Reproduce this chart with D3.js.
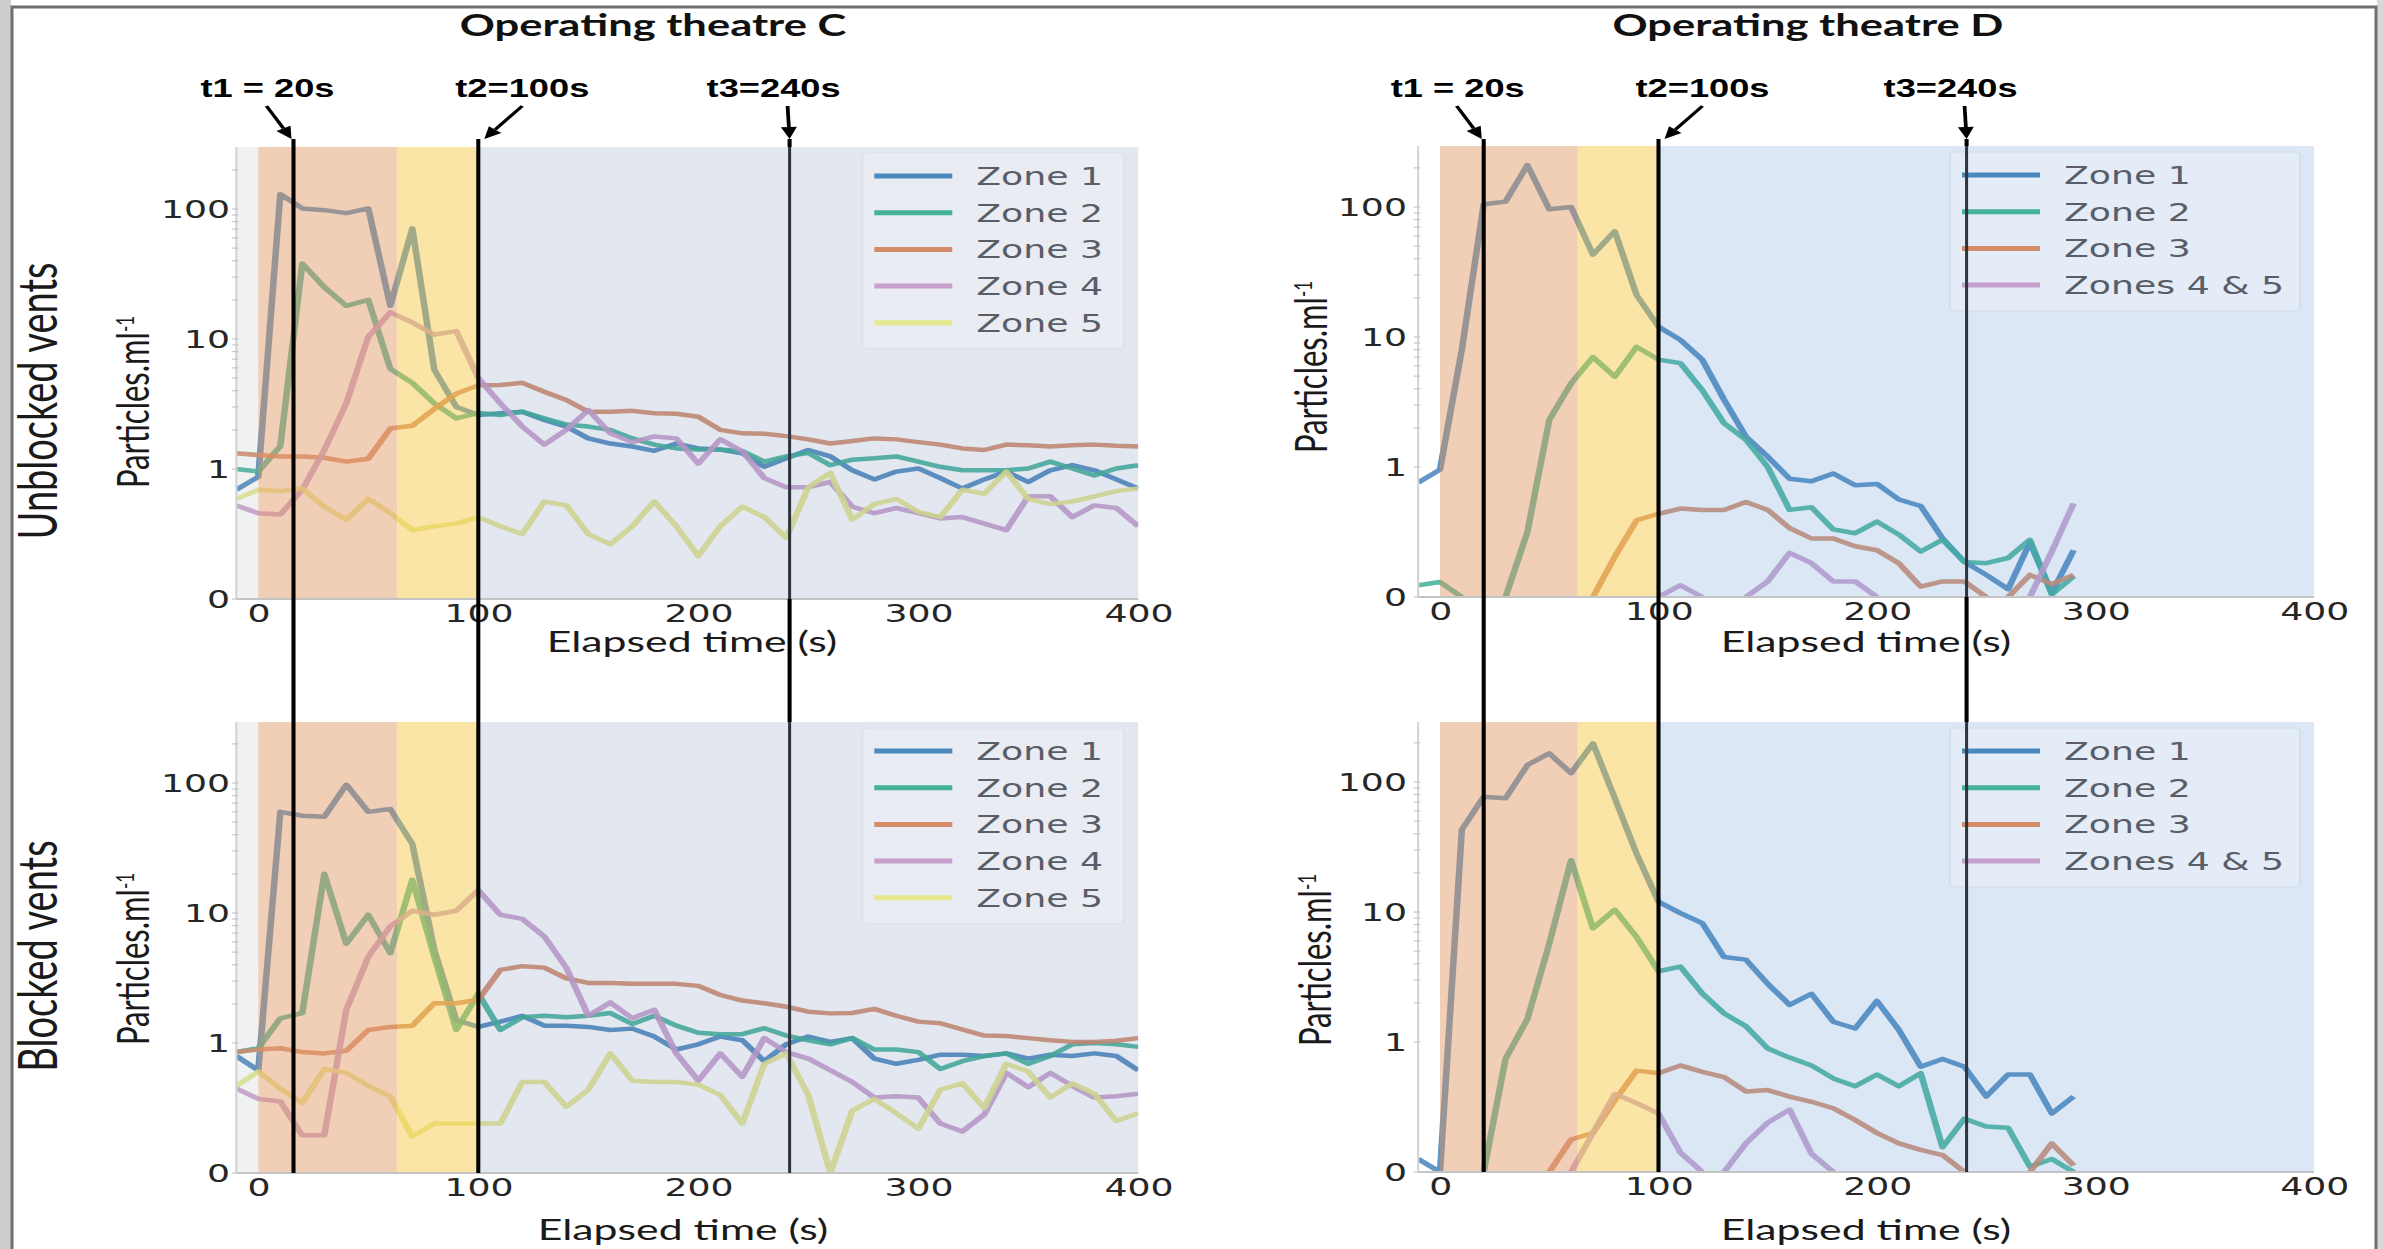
<!DOCTYPE html>
<html lang="en">
<head>
<meta charset="UTF-8">
<title>Particle concentration, operating theatres C and D</title>
<script src="https://cdnjs.cloudflare.com/ajax/libs/d3/7.8.5/d3.min.js"></script>
<style>
  body { margin: 0; background: #fff; }
  svg { display: block; }
</style>
</head>
<body>
<svg width="2384" height="1249"></svg>
<script>
"use strict";

// ---- data -------------------------------------------------------------
const timeC = [-10, 0, 10, 20, 30, 40, 50, 60, 70, 80, 90, 100, 110, 120, 130, 140, 150, 160, 170, 180, 190,
               200, 210, 220, 230, 240, 250, 260, 270, 280, 290, 300, 310, 320, 330, 340, 350, 360, 370, 380, 390, 400];
const timeD = [-10, 0, 10, 20, 30, 40, 50, 60, 70, 80, 90, 100, 110, 120, 130, 140, 150, 160, 170, 180, 190,
               200, 210, 220, 230, 240, 250, 260, 270, 280, 290];

const zoneNamesC = ["Zone 1", "Zone 2", "Zone 3", "Zone 4", "Zone 5"];
const zoneNamesD = ["Zone 1", "Zone 2", "Zone 3", "Zones 4 & 5"];

const yTicks = [0, 1, 10, 100];
const xTicks = [0, 100, 200, 300, 400];

const eventLabels = ["t1 = 20s", "t2=100s", "t3=240s"];
const eventTimesC = [16, 100, 241.5];
const eventTimesD = [20, 100, 241];
const phaseEdges = [0, 63, 100, 400];

// theatre C, unblocked vents
const cUnbZone1 = [0.84, 0.94, 130, 101, 98, 93, 101, 18, 71, 5.8, 3.0, 2.6,
  2.68, 2.76, 2.38, 2.12, 1.72, 1.57, 1.49, 1.38, 1.57, 1.44, 1.41, 1.32, 1.04, 1.21, 1.4, 1.25, 0.99, 0.92, 0.98, 1.01,
  0.93, 0.85, 0.92, 0.98, 0.9, 0.99, 1.07, 0.99, 0.92, 0.85];
const cUnbZone2 = [1.0, 0.98, 1.5, 38, 25, 18, 20, 5.9, 4.6, 3.2, 2.45, 2.7,
  2.6, 2.76, 2.45, 2.2, 2.12, 2.0, 1.72, 1.54, 1.44, 1.41, 1.41, 1.37, 1.14, 1.25, 1.33, 1.07, 1.18, 1.21, 1.25, 1.14,
  1.04, 0.99, 0.99, 0.99, 1.01, 1.14, 1.01, 0.95, 1.01, 1.07];
const cUnbZone3 = [1.32, 1.28, 1.25, 1.25, 1.22, 1.14, 1.2, 2.05, 2.15, 2.9, 3.8, 4.4,
  4.43, 4.6, 3.93, 3.4, 2.76, 2.76, 2.8, 2.68, 2.66, 2.52, 2.0, 1.88, 1.87, 1.79, 1.69, 1.57, 1.64, 1.72, 1.69, 1.61,
  1.54, 1.44, 1.4, 1.54, 1.52, 1.49, 1.52, 1.54, 1.51, 1.49];
const cUnbZone4 = [0.72, 0.66, 0.65, 0.84, 1.4, 3.2, 10.4, 16, 13.4, 10.8, 11.5, 5.0,
  3.2, 2.12, 1.54, 2.0, 2.84, 1.88, 1.61, 1.78, 1.72, 1.1, 1.69, 1.37, 0.93, 0.86, 0.86, 0.9, 0.71, 0.66, 0.7, 0.66,
  0.62, 0.63, 0.58, 0.53, 0.79, 0.79, 0.63, 0.72, 0.7, 0.56];
const cUnbZone5 = [0.77, 0.84, 0.83, 0.85, 0.71, 0.61, 0.77, 0.66, 0.53, 0.56, 0.58, 0.63,
  0.56, 0.5, 0.75, 0.72, 0.5, 0.42, 0.56, 0.75, 0.56, 0.33, 0.56, 0.71, 0.63, 0.47, 0.86, 0.97, 0.61, 0.73, 0.77, 0.67,
  0.63, 0.84, 0.81, 0.98, 0.77, 0.73, 0.75, 0.79, 0.83, 0.85];

// theatre C, blocked vents
const cBlkZone1 = [0.9, 0.79, 60, 56, 55, 97, 60, 63, 34, 5.2, 1.5, 1.33,
  1.46, 1.62, 1.36, 1.36, 1.33, 1.26, 1.29, 1.12, 0.95, 0.99, 1.12, 1.05, 0.86, 0.99, 1.12, 1.02, 1.09, 0.88, 0.84, 0.87,
  0.91, 0.91, 0.9, 0.92, 0.88, 0.91, 0.9, 0.92, 0.9, 0.79];
const cBlkZone2 = [0.93, 0.96, 1.55, 1.7, 20, 5.8, 9.7, 4.9, 18, 4.6, 1.26, 2.4,
  1.26, 1.58, 1.62, 1.58, 1.62, 1.7, 1.4, 1.62, 1.36, 1.2, 1.17, 1.17, 1.3, 1.14, 1.05, 0.99, 1.09, 0.95, 0.95, 0.93,
  0.8, 0.86, 0.9, 0.92, 0.84, 0.9, 0.99, 1.0, 0.99, 0.97];
const cBlkZone3 = [0.93, 0.95, 0.96, 0.93, 0.92, 0.94, 1.26, 1.33, 1.36, 2.02, 2.02, 2.15,
  3.65, 3.9, 3.8, 3.14, 2.9, 2.9, 2.85, 2.85, 2.85, 2.75, 2.34, 2.12, 2.02, 1.9, 1.74, 1.69, 1.7, 1.83, 1.62, 1.46,
  1.42, 1.27, 1.14, 1.13, 1.09, 1.05, 1.02, 1.02, 1.04, 1.09];
const cBlkZone4 = [0.65, 0.57, 0.55, 0.29, 0.29, 1.8, 4.6, 7.9, 10.4, 9.7, 10.4, 15,
  9.7, 9.0, 6.6, 3.8, 1.62, 2.05, 1.55, 1.8, 0.92, 0.71, 0.92, 0.74, 1.09, 0.93, 0.88, 0.79, 0.7, 0.58, 0.59, 0.58,
  0.38, 0.32, 0.45, 0.77, 0.66, 0.77, 0.67, 0.58, 0.59, 0.61];
const cBlkZone5 = [0.67, 0.78, 0.65, 0.54, 0.8, 0.77, 0.67, 0.59, 0.28, 0.38, 0.38, 0.38,
  0.38, 0.7, 0.7, 0.51, 0.64, 0.92, 0.71, 0.7, 0.7, 0.68, 0.6, 0.38, 0.84, 0.92, 0.6, 0, 0.48, 0.57, 0.46, 0.34,
  0.64, 0.69, 0.5, 0.84, 0.78, 0.58, 0.69, 0.61, 0.4, 0.46];

// theatre D, unblocked vents
const dUnbZone1 = [0.88, 0.98, 8, 105, 110, 210, 96, 100, 43, 65, 21, 12,
  9.5, 6.7, 3.3, 1.71, 1.2, 0.91, 0.89, 0.95, 0.86, 0.87,
  0.75, 0.7, 0.45, 0.27, 0.17, 0.06, 0.42, 0.03, 0.36];
const dUnbZone2 = [0.09, 0.115, 0, 0, 0, 0.5, 2.3, 4.4, 7.0, 4.95, 8.4, 6.7,
  6.3, 3.9, 2.17, 1.62, 1.0, 0.67, 0.69, 0.52, 0.49, 0.58,
  0.48, 0.35, 0.44, 0.27, 0.26, 0.3, 0.44, 0.02, 0.16];
const dUnbZone3 = [null, null, null, null, null, null, null, null, 0, 0.31, 0.59, 0.64,
  0.68, 0.67, 0.67, 0.73, 0.67, 0.53, 0.45, 0.45, 0.39, 0.36,
  0.26, 0.08, 0.12, 0.12, 0, 0, 0.17, 0.1, 0.17];
const dUnbZone45 = [null, null, null, null, null, null, null, null, null, null, null, 0,
  0.09, 0, 0, 0, 0.12, 0.34, 0.26, 0.12, 0.12, 0,
  0, 0, 0, 0, 0, 0, 0, 0.35, 0.72];

// theatre D, blocked vents
const dBlkZone1 = [0.1, 0, 43, 77, 75, 135, 166, 117, 198, 75, 28, 12,
  9.8, 8.2, 4.5, 4.3, 2.8, 1.93, 2.35, 1.43, 1.27, 2.07,
  1.24, 0.81, 0.87, 0.81, 0.58, 0.75, 0.75, 0.45, 0.58];
const dBlkZone2 = [null, null, null, 0, 0.87, 1.5, 5.7, 25, 7.5, 10.4, 6.4, 3.5,
  3.8, 2.37, 1.66, 1.32, 0.95, 0.88, 0.82, 0.72, 0.66, 0.75,
  0.66, 0.76, 0.19, 0.41, 0.35, 0.34, 0.04, 0.1, 0];
const dBlkZone3 = [null, null, null, null, null, null, 0, 0.25, 0.3, 0.55, 0.78, 0.76,
  0.82, 0.77, 0.73, 0.62, 0.63, 0.58, 0.54, 0.49, 0.4, 0.3,
  0.22, 0.17, 0.13, 0, 0, 0, 0, 0.22, 0.05];
const dBlkZone45 = [null, null, null, null, null, null, null, 0, 0.3, 0.6, 0.53, 0.45,
  0.15, 0, 0, 0.22, 0.38, 0.48, 0.14, 0, null, null,
  null, null, null, null, null, null, null, null, null];

// ---- layout / style ---------------------------------------------------
const SX = 1.45;        // the original figure is stretched horizontally
const DECADE = 130;     // px per y unit (0-1, 1-10, 10-100)
const zoneColors = ["#4a89be", "#44b39a", "#d58c69", "#c8a0cd", "#e6e88e"];
const phaseColors = ["#e0925d", "#f3c339"];

const columns = [
  {
    x0: 258.3, k: 2.2, title: "Operating theatre C", titleX: 653, events: eventTimesC,
    pre: { color: "#8291a5", opacity: 0.13 }, rest: { color: "#44609c", opacity: 0.15 },
    legendFill: "#e9ecf2", legendStroke: "#dde1e8", legendW: 262, names: zoneNamesC,
    colors: zoneColors, yPad: 4.3,
    panels: [
      { top: 147, bottom: 599, time: timeC, series: [cUnbZone1, cUnbZone2, cUnbZone3, cUnbZone4, cUnbZone5],
        xLabel: [692, 652], yLabel: [149, 402] },
      { top: 722, bottom: 1173, time: timeC, series: [cBlkZone1, cBlkZone2, cBlkZone3, cBlkZone4, cBlkZone5],
        xLabel: [683, 1240], yLabel: [149, 959] }
    ]
  },
  {
    x0: 1440, k: 2.185, title: "Operating theatre D", titleX: 1808, events: eventTimesD,
    pre: null, rest: { color: "#4b87cd", opacity: 0.2 },
    legendFill: "#e3ecf7", legendStroke: "#d3deec", legendW: 350, names: zoneNamesD,
    colors: [zoneColors[0], zoneColors[1], zoneColors[2], zoneColors[3]], yPad: 7.7,
    panels: [
      { top: 146, bottom: 597, time: timeD, series: [dUnbZone1, dUnbZone2, dUnbZone3, dUnbZone45],
        xLabel: [1866, 652], yLabel: [1327, 367] },
      { top: 722, bottom: 1172, time: timeD, series: [dBlkZone1, dBlkZone2, dBlkZone3, dBlkZone45],
        xLabel: [1866, 1240], yLabel: [1331, 960] }
    ]
  }
];

const rowLabels = [["Unblocked vents", 401], ["Blocked vents", 956]];

const symT = v => (v <= 1 ? v : 1 + Math.log10(v));

// split a series into drawable runs (no segment lying flat on zero)
function runs(time, vals) {
  const out = [];
  let cur = null;
  for (let i = 0; i < vals.length - 1; i++) {
    const a = vals[i], b = vals[i + 1];
    if (a != null && b != null && !(a === 0 && b === 0)) {
      if (!cur) { cur = [[time[i], a]]; out.push(cur); }
      cur.push([time[i + 1], b]);
    } else {
      cur = null;
    }
  }
  return out;
}

const svg = d3.select("svg");

// page frame from the screenshot
svg.append("rect").attr("x", 0).attr("y", 0).attr("width", 11).attr("height", 1249).attr("fill", "#cdcdcd");
svg.append("rect").attr("x", 2377).attr("y", 0).attr("width", 7).attr("height", 1249).attr("fill", "#d8d8d8");
svg.append("path").attr("d", "M12,1249V7H2376V1249").attr("fill", "none").attr("stroke", "#6f6f6f").attr("stroke-width", 3);

const defs = svg.append("defs");
let clipId = 0;

columns.forEach(col => {
  const sx = d3.scaleLinear()
    .domain([-10, 400])
    .range([(col.x0 - 10 * col.k) / SX, (col.x0 + 400 * col.k) / SX]);

  col.panels.forEach(p => {
    const sy = d3.scaleLinear().domain([0, (p.bottom - p.top) / DECADE]).range([p.bottom, p.top]);
    const yv = v => sy(symT(v));
    const left = sx(-10), right = sx(400);

    // clip in unscaled page space, series drawn inside a stretched group
    const id = "clip" + (clipId++);
    defs.append("clipPath").attr("id", id)
      .append("rect").attr("x", left * SX).attr("y", p.top).attr("width", (right - left) * SX).attr("height", p.bottom - p.top);
    const inner = svg.append("g").attr("clip-path", `url(#${id})`)
      .append("g").attr("transform", `scale(${SX},1)`);

    const line = d3.line().x(d => sx(d[0])).y(d => yv(d[1]));
    p.series.forEach((vals, si) => {
      runs(p.time, vals).forEach(r => {
        inner.append("path")
          .attr("d", line(r))
          .attr("fill", "none")
          .attr("stroke", col.colors[si])
          .attr("stroke-opacity", 0.88)
          .attr("stroke-width", 4.5)
          .attr("stroke-linejoin", "round");
      });
    });

    // shaded phases on top of the lines
    const bands = [];
    if (col.pre) bands.push({ from: -10, to: 0, color: col.pre.color, opacity: col.pre.opacity });
    bands.push({ from: phaseEdges[0], to: phaseEdges[1], color: phaseColors[0], opacity: 0.45 });
    bands.push({ from: phaseEdges[1], to: phaseEdges[2], color: phaseColors[1], opacity: 0.45 });
    bands.push({ from: phaseEdges[2], to: phaseEdges[3], color: col.rest.color, opacity: col.rest.opacity });
    const over = svg.append("g").attr("transform", `scale(${SX},1)`);
    over.selectAll("rect").data(bands).join("rect")
      .attr("x", d => sx(d.from))
      .attr("width", d => sx(d.to) - sx(d.from))
      .attr("y", p.top)
      .attr("height", p.bottom - p.top)
      .attr("fill", d => d.color)
      .attr("fill-opacity", d => d.opacity);

    // spines and minor ticks
    over.append("line").attr("x1", left).attr("x2", right).attr("y1", p.bottom).attr("y2", p.bottom)
      .attr("stroke", "#c4c4c4").attr("stroke-width", 2);
    over.append("line").attr("x1", left).attr("x2", left).attr("y1", p.top).attr("y2", p.bottom)
      .attr("stroke", "#d2d2d2").attr("stroke-width", 1.4);
    const minor = [];
    [1, 10, 100].forEach(dec => { for (let m = 2; m <= 9; m++) if (symT(dec * m) < (p.bottom - p.top) / DECADE) minor.push(dec * m); });
    over.selectAll(".mt").data(minor.concat(yTicks)).join("line")
      .attr("x1", left - 3).attr("x2", left + 1.5)
      .attr("y1", d => yv(d)).attr("y2", d => yv(d))
      .attr("stroke", "#c6c6c6").attr("stroke-width", 1.2);

    // axes
    const xa = over.append("g").attr("transform", `translate(0,${p.bottom})`)
      .call(d3.axisBottom(sx).tickValues(xTicks).tickSize(0).tickPadding(5));
    const ya = over.append("g").attr("transform", `translate(${left},0)`)
      .call(d3.axisLeft(sy).tickValues(yTicks.map(symT)).tickFormat((d, i) => yTicks[i]).tickSize(0).tickPadding(col.yPad));
    [xa, ya].forEach(a => {
      a.select(".domain").remove();
      a.attr("font-family", "'DejaVu Sans', sans-serif").attr("font-size", 25);
      a.selectAll("text").attr("fill", "#262626");
    });

    // axis titles
    over.append("text")
      .attr("x", p.xLabel[0] / SX).attr("y", p.xLabel[1])
      .attr("text-anchor", "middle")
      .attr("font-family", "Lato, sans-serif").attr("font-size", 29.5).attr("fill", "#1a1a1a")
      .text("Elapsed time (s)");
    const yl = over.append("text")
      .attr("transform", `translate(${p.yLabel[0] / SX},${p.yLabel[1]}) rotate(-90)`)
      .attr("text-anchor", "middle")
      .attr("font-family", "Lato, sans-serif").attr("font-size", 31).attr("fill", "#1a1a1a");
    yl.append("tspan").text("Particles.ml");
    yl.append("tspan").attr("baseline-shift", "super").attr("font-size", 17).text("-1");

    // legend
    const n = col.names.length;
    const lx = right - (14 + col.legendW) / SX;
    const ly = p.top + 6;
    over.append("rect")
      .attr("x", lx).attr("y", ly)
      .attr("width", col.legendW / SX).attr("height", n * 36.7 + 12)
      .attr("rx", 3).attr("ry", 4)
      .attr("fill", col.legendFill).attr("stroke", col.legendStroke).attr("stroke-width", 1.2);
    col.names.forEach((name, i) => {
      const yy = p.top + 29 + i * 36.7;
      over.append("line")
        .attr("x1", lx + 12 / SX).attr("x2", lx + 90 / SX)
        .attr("y1", yy).attr("y2", yy)
        .attr("stroke", col.colors[i]).attr("stroke-width", 5);
      over.append("text")
        .attr("x", lx + 114 / SX).attr("y", yy)
        .attr("dy", "0.36em")
        .attr("font-family", "'DejaVu Sans', sans-serif").attr("font-size", 25)
        .attr("fill", "#585d68")
        .text(name);
    });
  });

  // event markers spanning both panels
  const [pu, pb] = col.panels;
  const top = svg.append("g").attr("transform", `scale(${SX},1)`);
  col.events.forEach((t, i) => {
    const x = sx(t);
    if (i < 2) {
      top.append("line").attr("x1", x).attr("x2", x).attr("y1", 139).attr("y2", pb.bottom)
        .attr("stroke", "#000").attr("stroke-width", 2.8);
    } else {
      [[139, pu.top, "#000", 2.8], [pu.top, pu.bottom, "#30343d", 2.1],
       [pu.bottom, pb.top, "#000", 2.8], [pb.top, pb.bottom, "#30343d", 2.1]].forEach(s => {
        top.append("line").attr("x1", x).attr("x2", x).attr("y1", s[0]).attr("y2", s[1])
          .attr("stroke", s[2]).attr("stroke-width", s[3]);
      });
    }
    const labelDx = [-26, 44, -16][i];
    const startDx = [-1, 0, 14][i];
    const endDx = [-2, 6, 0][i];
    const lxp = x * SX + labelDx;
    top.append("text")
      .attr("x", lxp / SX).attr("y", 97)
      .attr("text-anchor", "middle")
      .attr("font-family", "'Liberation Sans', Arial, sans-serif").attr("font-weight", "bold")
      .attr("font-size", 25).attr("fill", "#000")
      .text(eventLabels[i]);
    // arrow
    const x1 = (lxp + startDx) / SX, y1 = 106, x2 = (x * SX + endDx) / SX, y2 = 139;
    const dx = x2 - x1, dy = y2 - y1, L = Math.hypot(dx, dy), ux = dx / L, uy = dy / L;
    const head = 12, hw = 5.5;
    const bx = x2 - ux * head, by = y2 - uy * head;
    top.append("line").attr("x1", x1).attr("y1", y1).attr("x2", bx).attr("y2", by)
      .attr("stroke", "#000").attr("stroke-width", 2.6);
    top.append("path")
      .attr("d", `M${x2},${y2}L${bx - uy * hw},${by + ux * hw}L${bx + uy * hw},${by - ux * hw}Z`)
      .attr("fill", "#000");
  });

  top.append("text")
    .attr("x", col.titleX / SX).attr("y", 36)
    .attr("text-anchor", "middle")
    .attr("font-family", "Lato, sans-serif").attr("font-weight", "bold")
    .attr("font-size", 30).attr("fill", "#111")
    .text(col.title);
});

// row labels
const rows = svg.append("g").attr("transform", `scale(${SX},1)`);
rowLabels.forEach(([txt, cy]) => {
  rows.append("text")
    .attr("transform", `translate(${57 / SX},${cy}) rotate(-90)`)
    .attr("text-anchor", "middle")
    .attr("font-family", "Lato, sans-serif").attr("font-size", 38).attr("fill", "#1a1a1a")
    .text(txt);
});
</script>
</body>
</html>
